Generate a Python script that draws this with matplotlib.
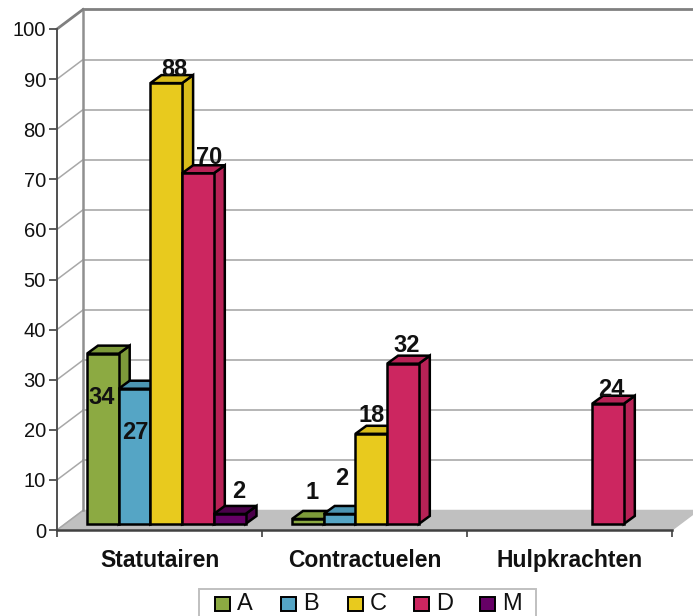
import matplotlib
matplotlib.use("Agg")
import matplotlib.pyplot as plt
from matplotlib.patches import Rectangle

plt.rcParams['font.family'] = ['Liberation Sans', 'DejaVu Sans']

categories = ["Statutairen", "Contractuelen", "Hulpkrachten"]
series = ["A", "B", "C", "D", "M"]
A = [34, 1, 0]
B = [27, 2, 0]
C = [88, 18, 0]
D = [70, 32, 24]
M = [2, 0, 0]
values = [A, B, C, D, M]
colors = ["#8CAA42", "#55A5C5", "#E8CA1E", "#CC2660", "#660066"]
dark_colors = ["#7D9A3A", "#4C95B2", "#D9BC1A", "#B82256", "#4A004A"]

# wall / bar depth, in data units
wall_dx = 26 / 205
wall_dy = 3.9
bar_dx = 11 / 205
bar_dy = 1.6
bar_w = 31.7 / 205
gap = 30 / 205
base = 1.2

# label offsets in pixels from bar centre/top (series, category)
offsets = {
    (0, 0): (-1, -44), (1, 0): (1, -44), (2, 0): (8, 14), (3, 0): (11, 16), (4, 0): (9, 22),
    (0, 1): (4, 26), (1, 1): (2, 35), (2, 1): (0, 18), (3, 1): (4, 18), (3, 2): (3, 14),
}

fig = plt.figure(figsize=(6.93, 6.16), dpi=100, facecolor="white")
ax = fig.add_axes([57 / 693, 1 - 530 / 616, 615 / 693, 501 / 616])
ax.set_xlim(0, 3)
ax.set_ylim(0, 100)
ax.patch.set_visible(False)

# floor
ax.fill([0, 3, 3 + wall_dx, wall_dx], [0, 0, wall_dy, wall_dy], color="#C0C0C0", clip_on=False, zorder=1)

# grid
for t in range(0, 101, 10):
    ax.plot([0, wall_dx], [t, t + wall_dy], color="#A8A8A8", lw=1.1, clip_on=False, zorder=1.5)
    if t > 0:
        ax.plot([wall_dx, 3 + wall_dx], [t + wall_dy, t + wall_dy],
                color="#808080" if t == 100 else "#B0B0B0",
                lw=2 if t == 100 else 1.3, clip_on=False, zorder=1.5)
ax.plot([wall_dx, wall_dx], [wall_dy, 100 + wall_dy], color="#909090", lw=1.8, clip_on=False, zorder=1.5)
ax.plot([0, wall_dx], [100, 100 + wall_dy], color="#808080", lw=2, clip_on=False, zorder=1.5)

# bars
for c in range(len(categories)):
    for s in range(len(series)):
        v = values[s][c]
        if v == 0:
            continue
        x0 = c + gap + s * bar_w
        x1 = x0 + bar_w
        top = base + v
        z = 3 + c * 10 + s
        ax.fill([x1, x1 + bar_dx, x1 + bar_dx, x1], [base, base + bar_dy, top + bar_dy, top],
                facecolor=dark_colors[s], edgecolor="black", lw=1.8, clip_on=False, zorder=z)
        ax.fill([x0, x1, x1 + bar_dx, x0 + bar_dx], [top, top, top + bar_dy, top + bar_dy],
                facecolor=dark_colors[s], edgecolor="black", lw=1.8, clip_on=False, zorder=z)
        ax.bar(x0, v, bar_w, bottom=base, align="edge", color=colors[s], edgecolor="black",
               lw=1.8, clip_on=False, zorder=z + 0.5)

# labels on top of everything
for c in range(len(categories)):
    for s in range(len(series)):
        v = values[s][c]
        if v == 0:
            continue
        dx, dy = offsets[(s, c)]
        ax.annotate(str(v), (c + gap + (s + 0.5) * bar_w, base + v),
                    xytext=(dx * 0.72, dy * 0.72), textcoords="offset points",
                    ha="center", va="center", fontsize=17, fontweight="bold",
                    color="#111111", annotation_clip=False, zorder=100)

for name in ["top", "right"]:
    ax.spines[name].set_visible(False)
ax.spines["left"].set_color("#505050")
ax.spines["left"].set_linewidth(1.4)
ax.spines["bottom"].set_color("#404040")
ax.spines["bottom"].set_linewidth(1.8)
ax.spines["left"].set_zorder(2)
ax.spines["bottom"].set_zorder(2)

ax.set_yticks(range(0, 101, 10))
ax.tick_params(axis="y", labelsize=14.5, length=6, width=1.2, color="#404040", pad=2, labelcolor="#111111")
ax.set_xticks([0, 1, 2, 3])
ax.set_xticklabels([])
ax.set_xticks([0.5, 1.5, 2.5], labels=categories, minor=True)
ax.tick_params(axis="x", which="major", length=5, width=1.2, color="#404040")
ax.tick_params(axis="x", which="minor", length=0, pad=14, labelsize=16.5, labelcolor="#111111")
for lab in ax.get_xticklabels(minor=True):
    lab.set_fontweight("bold")

# legend, drawn by hand because the box runs off the bottom of the figure
W, H = 693, 616
fig.add_artist(Rectangle((199 / W, -0.01), 337 / W, 1 - 589 / H + 0.01, transform=fig.transFigure,
                         facecolor="white", edgecolor="#C0C0C0", lw=1.4))
for i, name in enumerate(series):
    px = 215 + i * 66.3
    fig.add_artist(Rectangle((px / W, 1 - 611 / H), 15 / W, 14 / H, transform=fig.transFigure,
                             facecolor=colors[i], edgecolor="black", lw=1.4))
    fig.text((px + 22) / W, 1 - 604 / H, name, fontsize=17, color="#111111", ha="left", va="center")

fig.savefig("out.png", dpi=100, facecolor="white")
